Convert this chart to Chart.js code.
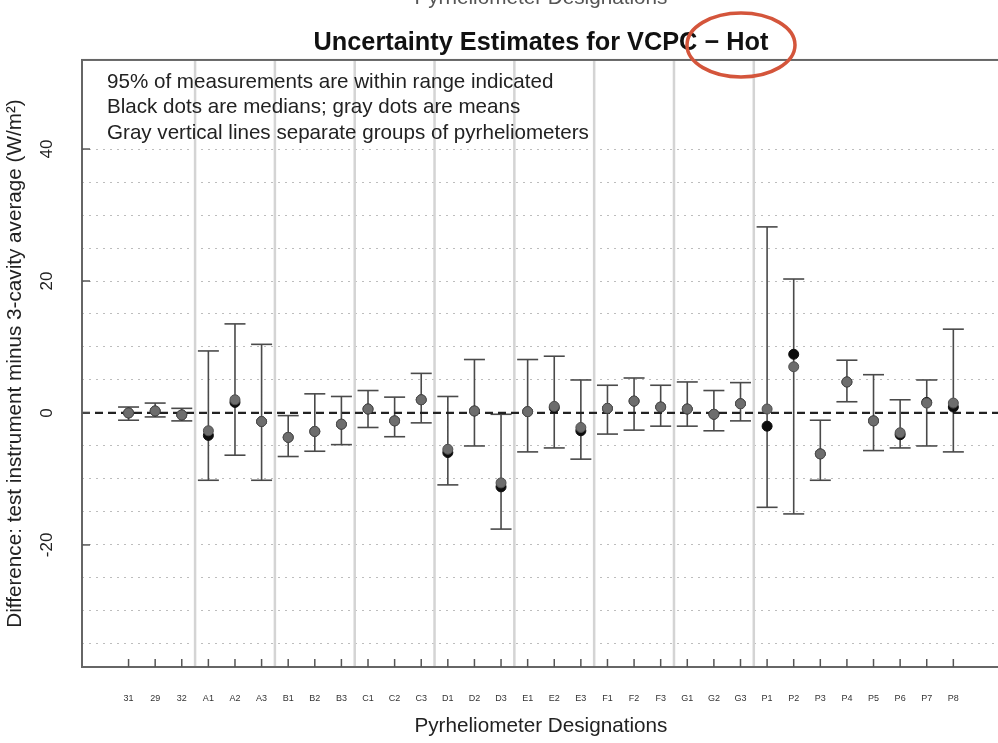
<!DOCTYPE html>
<html>
<head>
<meta charset="utf-8">
<script src="https://cdn.jsdelivr.net/npm/chart.js@4.4.1/dist/chart.umd.min.js"></script>
<style>
  html, body { margin: 0; padding: 0; overflow: hidden; background: #fff; width: 998px; height: 743px; }
  #wrap { position: relative; width: 1012px; height: 743px; }
</style>
</head>
<body>
<div id="wrap"><canvas id="c" width="1012" height="743"></canvas></div>
<script>
// ---------------- data ----------------
const categories = ['31','29','32','A1','A2','A3','B1','B2','B3','C1','C2','C3','D1','D2','D3','E1','E2','E3','F1','F2','F3','G1','G2','G3','P1','P2','P3','P4','P5','P6','P7','P8'];
const upper   = [0.9, 1.5, 0.7, 9.4, 13.5, 10.4, -0.4, 2.9, 2.5, 3.4, 2.4, 6.0, 2.5, 8.1, -0.2, 8.1, 8.6, 5.0, 4.2, 5.3, 4.2, 4.7, 3.4, 4.6, 28.2, 20.3, -1.1, 8.0, 5.8, 2.0, 5.0, 12.7];
const lower   = [-1.1, -0.6, -1.2, -10.2, -6.4, -10.2, -6.6, -5.8, -4.8, -2.2, -3.6, -1.5, -10.9, -5.0, -17.6, -5.9, -5.3, -7.0, -3.2, -2.6, -2.0, -2.0, -2.7, -1.2, -14.3, -15.3, -10.2, 1.7, -5.7, -5.3, -5.0, -5.9];
const means   = [0.0, 0.3, -0.3, -2.7, 2.0, -1.3, -3.7, -2.8, -1.7, 0.6, -1.2, 2.0, -5.5, 0.3, -10.6, 0.2, 1.0, -2.2, 0.7, 1.8, 0.9, 0.6, -0.2, 1.4, 0.6, 7.0, -6.2, 4.7, -1.2, -3.0, 1.5, 1.5];
const medians = [0.0, 0.3, -0.3, -3.4, 1.6, -1.3, -3.7, -2.8, -1.7, 0.6, -1.2, 2.0, -6.0, 0.3, -11.2, 0.2, 0.8, -2.7, 0.7, 1.8, 0.9, 0.6, -0.2, 1.4, -2.0, 8.9, -6.2, 4.7, -1.2, -3.3, 1.6, 0.9];
const yTickLabels = [-20, 0, 20, 40];
const gridValues = [-35, -30, -25, -20, -15, -10, -5, 0, 5, 10, 15, 20, 25, 30, 35, 40];
const noteLines = [
  '95% of measurements are within range indicated',
  'Black dots are medians; gray dots are means',
  'Gray vertical lines separate groups of pyrheliometers'
];
const titleText = 'Uncertainty Estimates for VCPC \u2212 Hot';
const xTitle = 'Pyrheliometer Designations';
const yTitle = 'Difference: test instrument minus 3-cavity average (W/m\u00B2)';
const X_MIN = -1.75, X_MAX = 32.75, Y_MIN = -38.5, Y_MAX = 53.5;

// group boundaries where the designation family changes
const groupOf = c => /^[A-Z]/.test(c) ? c[0] : '#';
const groupBreaks = [];
for (let i = 1; i < categories.length; i++) {
  if (groupOf(categories[i]) !== groupOf(categories[i - 1])) groupBreaks.push(i - 0.5);
}

const FONT = '"Liberation Sans", Arial, Helvetica, sans-serif';
Chart.defaults.font.family = FONT;
Chart.defaults.color = '#222';

const stemData = [];
const capData = [];
categories.forEach((_, i) => {
  stemData.push({x: i, y: lower[i]}, {x: i, y: upper[i]}, {x: i, y: null});
  capData.push({x: i, y: lower[i]}, {x: i, y: upper[i]});
});

const decor = {
  id: 'decor',
  beforeDatasetsDraw(chart) {
    const {ctx, chartArea: a, scales: {x}} = chart;
    ctx.save();
    ctx.strokeStyle = '#d4d4d4';
    ctx.lineWidth = 2.5;
    groupBreaks.forEach(b => {
      const px = x.getPixelForValue(b);
      ctx.beginPath(); ctx.moveTo(px, a.top); ctx.lineTo(px, a.bottom); ctx.stroke();
    });
    ctx.restore();
  },
  afterDraw(chart) {
    const {ctx, chartArea: a, scales: {x, y}} = chart;
    ctx.save();
    // plot box
    ctx.strokeStyle = '#666'; ctx.lineWidth = 2;
    ctx.strokeRect(a.left, a.top, a.right - a.left, a.bottom - a.top);
    // x tick marks (inward)
    ctx.strokeStyle = '#555'; ctx.lineWidth = 1.5;
    categories.forEach((_, i) => {
      const px = x.getPixelForValue(i);
      ctx.beginPath(); ctx.moveTo(px, a.bottom); ctx.lineTo(px, a.bottom - 8); ctx.stroke();
    });
    // y tick marks + rotated labels
    ctx.fillStyle = '#222';
    ctx.font = '17px ' + FONT;
    ctx.textAlign = 'center'; ctx.textBaseline = 'middle';
    yTickLabels.forEach(v => {
      const py = y.getPixelForValue(v);
      ctx.beginPath(); ctx.moveTo(a.left, py); ctx.lineTo(a.left + 8, py); ctx.stroke();
      ctx.save();
      ctx.translate(a.left - 35, py);
      ctx.rotate(-Math.PI / 2);
      ctx.fillText(String(v), 0, 0);
      ctx.restore();
    });
    // notes
    ctx.textAlign = 'left';
    ctx.font = '20.6px ' + FONT;
    noteLines.forEach((t, k) => ctx.fillText(t, a.left + 25, a.top + 22 + k * 25.5));
    // cut-off heading of the chart above
    ctx.textAlign = 'center'; ctx.textBaseline = 'alphabetic';
    ctx.fillStyle = '#555';
    ctx.font = '20.7px ' + FONT;
    ctx.fillText(xTitle, (a.left + a.right) / 2, 4);
    // red annotation ellipse
    ctx.strokeStyle = '#d4553b'; ctx.lineWidth = 3.5;
    ctx.beginPath(); ctx.ellipse(741, 45, 54, 32, 0, 0, Math.PI * 2); ctx.stroke();
    ctx.restore();
  }
};

new Chart(document.getElementById('c'), {
  type: 'scatter',
  data: {
    datasets: [
      { label: 'zero', data: [{x: X_MIN, y: 0}, {x: X_MAX, y: 0}], showLine: true, pointRadius: 0,
        borderColor: '#222', borderWidth: 2.2, borderDash: [8, 5], order: 3 },
      { label: 'range', data: stemData, showLine: true, spanGaps: false, pointRadius: 0,
        borderColor: '#4a4a4a', borderWidth: 1.6, order: 5 },
      { label: 'caps', data: capData, pointStyle: 'line', pointRadius: 10.5, pointHoverRadius: 10.5,
        borderColor: '#4a4a4a', borderWidth: 1.6, order: 4 },
      { label: 'medians', data: medians.map((v, i) => ({x: i, y: v})), pointRadius: 5, pointHoverRadius: 5,
        backgroundColor: '#0d0d0d', borderColor: '#0d0d0d', borderWidth: 1, order: 2 },
      { label: 'means', data: means.map((v, i) => ({x: i, y: v})), pointRadius: 5, pointHoverRadius: 5,
        backgroundColor: '#6d6d6d', borderColor: '#505050', borderWidth: 1, order: 1 }
    ]
  },
  options: {
    responsive: false,
    animation: false,
    events: [],
    layout: { padding: { left: 0, right: 5, top: 0, bottom: 0 } },
    plugins: {
      legend: { display: false },
      tooltip: { enabled: false },
      title: { display: true, text: titleText, fullSize: false, color: '#111',
               font: { size: 25.3, weight: 'bold' }, padding: { top: 28, bottom: 1.6 } }
    },
    scales: {
      x: {
        type: 'linear', min: X_MIN, max: X_MAX,
        afterFit(s) { s.height = 76; },
        afterBuildTicks(s) { s.ticks = categories.map((_, i) => ({value: i})); },
        ticks: { autoSkip: false, maxRotation: 0, minRotation: 0, font: { size: 9 }, color: '#333',
                 padding: 26, callback: v => categories[v] },
        grid: { display: false, drawTicks: false },
        border: { display: false },
        title: { display: true, text: xTitle, font: { size: 20.7 }, color: '#222', padding: { top: 0, bottom: 4 } }
      },
      y: {
        type: 'linear', min: Y_MIN, max: Y_MAX,
        afterFit(s) { s.width = 82; },
        afterBuildTicks(s) { s.ticks = gridValues.map(v => ({value: v})); },
        ticks: { display: false },
        grid: { drawTicks: false, lineWidth: 1,
                color: c => (c.tick && c.tick.value === 0) ? 'rgba(0,0,0,0)' : '#bdbdbd' },
        border: { display: false, dash: [2, 5] },
        title: { display: true, text: yTitle, font: { size: 20.7 }, color: '#222', padding: { top: 3, bottom: 0 } }
      }
    }
  },
  plugins: [decor]
});
</script>
</body>
</html>
